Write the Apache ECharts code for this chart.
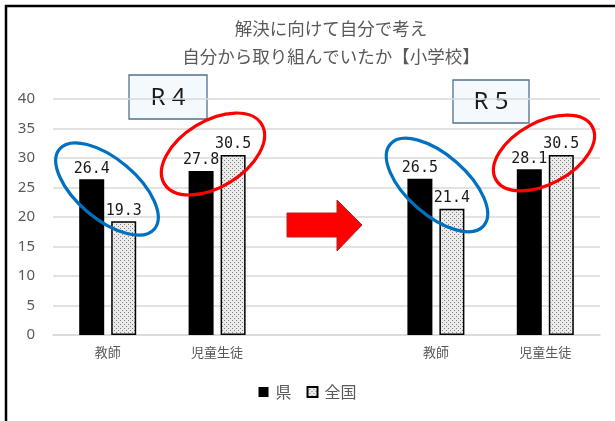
<!DOCTYPE html>
<html><head><meta charset="utf-8">
<style>html,body{margin:0;padding:0;background:#fff}#c{width:615px;height:421px}</style>
<script src="https://cdn.jsdelivr.net/npm/echarts@6/dist/echarts.min.js"></script>
</head><body><div id="c"></div>
<script>
const titleLines = ['解決に向けて自分で考え', '自分から取り組んでいたか【小学校】'];
const categories = ['教師', '児童生徒', '', '教師', '児童生徒'];
const seriesNames = ['県', '全国'];
const prefValues = [26.4, 27.8, null, 26.5, 28.1];
const nationalValues = [19.3, 30.5, null, 21.4, 30.5];
const yTicks = { min: 0, max: 40, interval: 5 };
const yearLabels = ['R 4', 'R 5'];

const pc = document.createElement('canvas');
pc.width = 4; pc.height = 4;
const g = pc.getContext('2d');
g.fillStyle = '#ebebeb'; g.fillRect(0, 0, 4, 4);
g.fillStyle = '#808080';
g.fillRect(0, 0, 1, 1); g.fillRect(2, 2, 1, 1);
const pattern = { image: pc, repeat: 'repeat' };

const CJK = '"Noto Sans CJK JP", sans-serif';
const chart = echarts.init(document.getElementById('c'), null, { renderer: 'canvas' });

function ellipse(cx, cy, rx, ry, rot, color) {
  return { type: 'ellipse', x: cx, y: cy, rotation: rot, shape: { cx: 0, cy: 0, rx: rx, ry: ry },
    style: { fill: 'none', stroke: color, lineWidth: 3.2 }, z: 100 };
}
function box(x, y, w, h, label) {
  return { type: 'group', x: x, y: y, z: 100, children: [
    { type: 'rect', shape: { x: 0, y: 0, width: w, height: h },
      style: { fill: '#f4f9fd', stroke: '#52718f', lineWidth: 1.3 } },
    { type: 'text', x: w / 2, y: h / 2 + 1, style: { text: label, fill: '#1a1a1a',
      font: '24px "Noto Sans", sans-serif', textAlign: 'center', textVerticalAlign: 'middle' } }
  ]};
}

chart.setOption({
  animation: false,
  backgroundColor: '#fff',
  title: {
    text: titleLines.join('\n'), left: 331, top: 14, padding: 0, textAlign: 'center',
    textStyle: { fontFamily: CJK, fontSize: 17.5, fontWeight: 'normal', color: '#595959', lineHeight: 28 }
  },
  legend: {
    bottom: 16, left: 'center', itemWidth: 10, itemHeight: 10, itemGap: 15,
    textStyle: { fontFamily: CJK, fontSize: 16, color: '#595959', padding: [0, 0, 0, 2] },
    data: [
      { name: seriesNames[0], icon: 'rect' },
      { name: seriesNames[1], icon: 'rect' }
    ]
  },
  grid: { left: 53, right: 15, top: 99, bottom: 86 },
  xAxis: {
    type: 'category', data: categories,
    axisLine: { lineStyle: { color: '#d9d9d9', width: 1.5 } },
    axisTick: { show: false },
    axisLabel: { fontFamily: CJK, fontSize: 13, color: '#595959', margin: 11 }
  },
  yAxis: {
    type: 'value', min: yTicks.min, max: yTicks.max, interval: yTicks.interval,
    axisLine: { show: false }, axisTick: { show: false },
    splitLine: { lineStyle: { color: '#d9d9d9', width: 1.5 } },
    axisLabel: { fontFamily: '"Noto Sans", sans-serif', fontSize: 15, color: '#595959', margin: 18 }
  },
  series: [
    { name: seriesNames[0], type: 'bar', data: prefValues, barWidth: 25, barGap: '28%',
      itemStyle: { color: '#000' },
      label: { show: true, position: 'top', distance: 3, color: '#1a1a1a',
        fontFamily: '"DejaVu Sans Mono", monospace', fontSize: 15 } },
    { name: seriesNames[1], type: 'bar', data: nationalValues, barWidth: 25,
      itemStyle: { color: pattern, borderColor: '#000', borderWidth: 1.5 },
      label: { show: true, position: 'top', distance: 3, color: '#1a1a1a',
        fontFamily: '"DejaVu Sans Mono", monospace', fontSize: 15 } }
  ],
  graphic: [
    { type: 'rect', shape: { x: 6, y: 6, width: 800, height: 600 },
      style: { fill: 'none', stroke: '#000', lineWidth: 2.5 }, z: 100 },
    box(129, 75, 78, 44, yearLabels[0]),
    box(453, 80, 76, 43, yearLabels[1]),
    ellipse(107, 189, 62, 30, -0.70, '#0070c0'),
    ellipse(213, 154, 57, 33, 0.55, '#ff0000'),
    ellipse(437, 185, 62, 30, -0.72, '#0070c0'),
    ellipse(544, 153, 55, 31, 0.50, '#ff0000'),
    { type: 'polygon', z: 100, shape: { points: [[287,213],[337,213],[337,200],[362,225],[337,251],[337,237],[287,237]] },
      style: { fill: '#ff0000', stroke: '#b02020', lineWidth: 1 } }
  ]
});
</script></body></html>
